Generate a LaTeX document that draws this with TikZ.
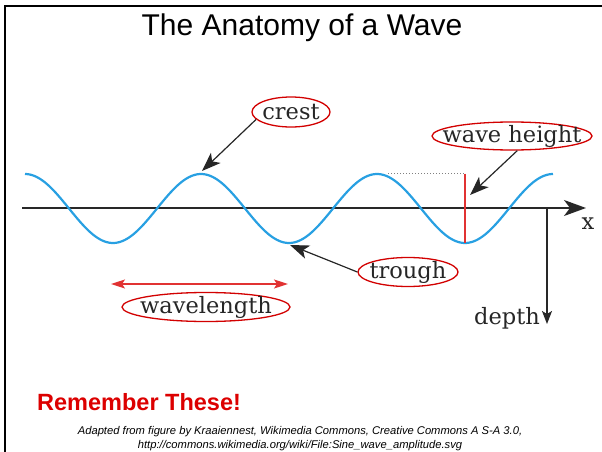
\documentclass[tikz,border=0pt]{standalone}
\usepackage{fontspec}
\setmainfont{Liberation Sans}
\newfontfamily\labfont{DejaVu Serif}
\usetikzlibrary{arrows.meta,shapes.geometric}
\definecolor{waveblue}{RGB}{40,160,226}
\definecolor{ellred}{RGB}{210,0,0}
\definecolor{linered}{RGB}{225,50,50}
\definecolor{remred}{RGB}{220,0,0}
\definecolor{axisgray}{RGB}{40,40,40}
\tikzset{
  lab/.style={font=\labfont\fontsize{22.5}{26}\selectfont, text=black!85, inner sep=0pt},
  ell/.style={ellipse, draw=ellred, line width=1.3pt, inner sep=0pt},
  pointer/.style={draw=black!85, line width=1.2pt, -{Stealth[length=19pt,width=14pt,inset=5pt]}},
  axisline/.style={draw=axisgray, line width=1.4pt},
}
\begin{document}
\begin{tikzpicture}[x=1pt,y=-1pt]
\useasboundingbox (0,0) rectangle (602,452);
% frame
\draw[line width=2pt, black] (5,453) -- (5,6) -- (603,6);
% title
\node (title) at (302,28) {\fontsize{30}{34}\selectfont The Anatomy of a Wave};
% axis
\coordinate (axL) at (22,208);
\coordinate (axR) at (586,208);
\draw[axisline, -{Stealth[length=22pt,width=16pt,inset=6pt]}] (axL) -- (axR);
\node[lab] (xlab) at (588,224) {x};
% depth
\coordinate (dTop) at (547,208);
\coordinate (dBot) at (547,324);
\draw[axisline, -{Stealth[length=13pt,width=10pt,inset=3pt]}] (dTop) -- (dBot);
\node[lab] (depth) at (507,318) {depth};
% wave
\draw[waveblue, line width=2.2pt] plot[domain=25:553, samples=240, smooth] (\x,{208.5-34.5*cos((\x-25)/176*360)});
% wave height markers
\coordinate (whTop) at (465,173.5);
\coordinate (whBot) at (465,242.5);
\coordinate (dotL) at (388,173.5);
\draw[gray, line width=1pt, dotted] (dotL) -- (whTop);
\draw[linered, line width=1.2pt] (whTop) -- (whBot);
% label ellipses
\node[ell, minimum width=78pt, minimum height=30pt] (crestE) at (291,112) {};
\node[ell, minimum width=160pt, minimum height=28pt] (whE) at (512,136) {};
\node[ell, minimum width=100pt, minimum height=29pt] (troughE) at (408,272) {};
\node[ell, minimum width=168pt, minimum height=29pt] (wlE) at (206,307) {};
% label texts
\node[lab] (crest) at (crestE) {crest};
\node[lab] (wh) at (whE) {wave height};
\node[lab] (trough) at (troughE) {trough};
\node[lab] (wl) at (wlE) {wavelength};
% pointers
\coordinate (crestTip) at (202,171);
\coordinate (whTip) at (470,195);
\coordinate (troughTip) at (290,245);
\draw[pointer] (crestE.192) -- (crestTip);
\draw[pointer] (whE.290) -- (whTip);
\draw[pointer] (troughE.west) -- (troughTip);
% wavelength arrow
\coordinate (wlA) at (111,284);
\coordinate (wlB) at (288,284);
\draw[linered, line width=1.4pt, {Stealth[length=14pt,width=9pt,inset=3pt]}-{Stealth[length=14pt,width=9pt,inset=3pt]}] (wlA) -- (wlB);
% remember
\node[anchor=west, text=remred, font=\bfseries\fontsize{23.5}{27}\selectfont, inner sep=0pt] (rem) at (37,402) {Remember These!};
\node[font=\itshape\fontsize{11.2}{14}\selectfont, align=center, inner sep=0pt, anchor=north] (cred) at (300,426)
  {Adapted from figure by Kraaiennest, Wikimedia Commons, Creative Commons A S-A 3.0,\\
   http://commons.wikimedia.org/wiki/File:Sine\_wave\_amplitude.svg};
\end{tikzpicture}
\end{document}
